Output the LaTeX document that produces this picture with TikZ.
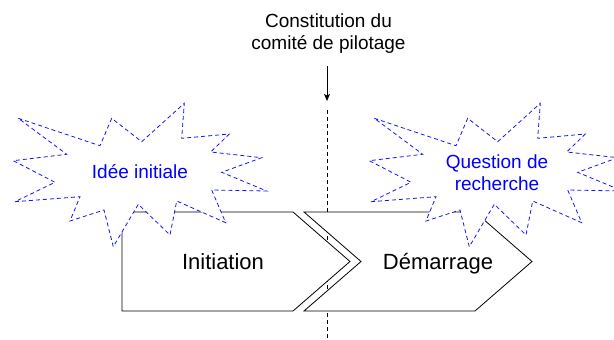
\documentclass[tikz,border=0pt]{standalone}
\usepackage{fontspec}
\setmainfont{Liberation Sans}
\usepackage{tikz}
\usetikzlibrary{arrows.meta, positioning, calc}
\definecolor{burstblue}{RGB}{20,20,255}
\tikzset{
    phasebox/.style={draw=black, line width=0.8pt, fill=white, line join=miter},
    burst/.style={draw=burstblue, line width=0.8pt, dash pattern=on 4pt off 3pt, fill=white},
    phaselabel/.style={font=\fontsize{22}{26}\selectfont, text=black, anchor=base},
    burstlabel/.style={font=\fontsize{19}{22}\selectfont, text=blue, align=center},
    milestonelabel/.style={font=\fontsize{19}{22}\selectfont, text=black, align=center},
    arrow/.style={-{Stealth[length=7pt,width=6pt,inset=1.5pt]}, line width=1pt, black},
    milestone/.style={black, line width=0.8pt, dash pattern=on 4pt off 3pt},
}
\newcommand{\burstoutline}{(18.3,118.3) -- (100,145.7) -- (111.7,118.3) -- (141.7,141.7) -- (184.3,103.3) -- (181.7,138.3) -- (229.3,134) -- (210.7,152) -- (261.7,157.7) -- (221.7,172.3) -- (266.7,191) -- (211.7,190) -- (225.7,222.7) -- (176.7,201) -- (170,235) -- (138.3,204.3) -- (113.3,246.7) -- (104,210) -- (70,221) -- (80,196.7) -- (15,201.7) -- (55,182.3) -- (13.3,160.7) -- (66.7,154.3) -- cycle}

\begin{document}
\begin{tikzpicture}[x=1pt, y=-1pt]
\useasboundingbox (0,0) rectangle (614,340);

\node[milestonelabel] (comite) at (328.5,34) {Constitution du\\comité de pilotage};
\coordinate (gate) at (327,101);
\coordinate (linetop) at (327,110);
\coordinate (linebot) at (327,340);
\draw[arrow, shorten <=9pt] (comite.south -| gate) -- (gate);
\draw[milestone] (linetop) -- (linebot);

% the two phases
\draw[phasebox] (122,212) -- (293,212) -- (350,261.5) -- (293,311) -- (122,311) -- cycle;
\draw[phasebox] (304,212) -- (475,212) -- (532,261.5) -- (475,311) -- (304,311) -- (361,261.5) -- cycle;
\node[phaselabel] (init) at (223,269) {Initiation};
\node[phaselabel] (demarrage) at (438,269) {Démarrage};

% bursts
\draw[burst] \burstoutline;
\begin{scope}[xshift=356pt]
\draw[burst] \burstoutline;
\end{scope}
\node[burstlabel] (idee) at (140,172) {Idée initiale};
\node[burstlabel] (question) at (497,172.5) {Question de\\recherche};
\end{tikzpicture}
\end{document}
